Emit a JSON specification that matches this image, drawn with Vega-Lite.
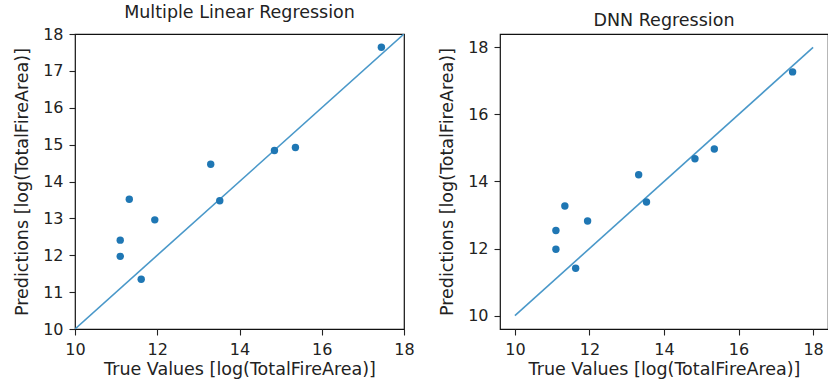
{
  "$schema": "https://vega.github.io/schema/vega-lite/v6.json",
  "padding": {"left": 13, "top": 2, "right": 0, "bottom": 0},
  "background": "white",
  "datasets": {
    "mlr": [
      {"true": 17.45, "pred": 17.64},
      {"true": 14.85, "pred": 14.84},
      {"true": 15.36, "pred": 14.92},
      {"true": 13.30, "pred": 14.47},
      {"true": 13.52, "pred": 13.48},
      {"true": 11.32, "pred": 13.52},
      {"true": 11.94, "pred": 12.96},
      {"true": 11.10, "pred": 12.41},
      {"true": 11.10, "pred": 11.97},
      {"true": 11.61, "pred": 11.35}
    ],
    "dnn": [
      {"true": 17.45, "pred": 17.27},
      {"true": 14.83, "pred": 14.68},
      {"true": 15.35, "pred": 14.97},
      {"true": 13.32, "pred": 14.20},
      {"true": 13.53, "pred": 13.39},
      {"true": 11.34, "pred": 13.27},
      {"true": 11.95, "pred": 12.82},
      {"true": 11.10, "pred": 12.54},
      {"true": 11.10, "pred": 11.98},
      {"true": 11.63, "pred": 11.41}
    ],
    "diag": [
      {"true": 10, "pred": 10},
      {"true": 18, "pred": 18}
    ]
  },
  "config": {
    "font": "DejaVu Sans",
    "view": {"stroke": "#111", "strokeWidth": 1.2},
    "axis": {
      "grid": false,
      "domain": false,
      "ticks": true,
      "tickSize": 6,
      "tickColor": "#222",
      "tickWidth": 1.1,
      "labelPadding": 6,
      "labelFontSize": 16,
      "labelColor": "#222",
      "labelOverlap": false,
      "labelBound": false,
      "labelFlush": false,
      "titleFontSize": 17.5,
      "titleFontWeight": "normal",
      "titleColor": "#222",
      "titlePadding": 3
    },
    "axisY": {"titlePadding": 11},
    "title": {"fontSize": 17.5, "fontWeight": "normal", "color": "#222", "offset": 5}
  },
  "spacing": 23,
  "hconcat": [
    {
      "width": 329,
      "height": 295,
      "title": "Multiple Linear Regression",
      "encoding": {
        "x": {"field": "true", "type": "quantitative", "title": "True Values [log(TotalFireArea)]",
              "scale": {"domain": [10, 18], "nice": false, "zero": false},
              "axis": {"values": [10, 12, 14, 16, 18]}},
        "y": {"field": "pred", "type": "quantitative", "title": "Predictions [log(TotalFireArea)]",
              "scale": {"domain": [10, 18], "nice": false, "zero": false},
              "axis": {"values": [10, 11, 12, 13, 14, 15, 16, 17, 18], "tickCount": 9}}
      },
      "layer": [
        {
          "data": {"name": "diag"},
          "mark": {"type": "line", "color": "#4a98c9", "strokeWidth": 1.6, "clip": true}
        },
        {
          "data": {"name": "mlr"},
          "mark": {"type": "circle", "color": "#1f77b4", "opacity": 1, "size": 55}
        }
      ]
    },
    {
      "width": 328,
      "height": 295,
      "title": "DNN Regression",
      "encoding": {
        "x": {"field": "true", "type": "quantitative", "title": "True Values [log(TotalFireArea)]",
              "scale": {"domain": [9.6, 18.4], "nice": false, "zero": false},
              "axis": {"values": [10, 12, 14, 16, 18]}},
        "y": {"field": "pred", "type": "quantitative", "title": "Predictions [log(TotalFireArea)]",
              "scale": {"domain": [9.6, 18.4], "nice": false, "zero": false},
              "axis": {"values": [10, 12, 14, 16, 18]}}
      },
      "layer": [
        {
          "data": {"name": "diag"},
          "mark": {"type": "line", "color": "#4a98c9", "strokeWidth": 1.6}
        },
        {
          "data": {"name": "dnn"},
          "mark": {"type": "circle", "color": "#1f77b4", "opacity": 1, "size": 55}
        }
      ]
    }
  ]
}
